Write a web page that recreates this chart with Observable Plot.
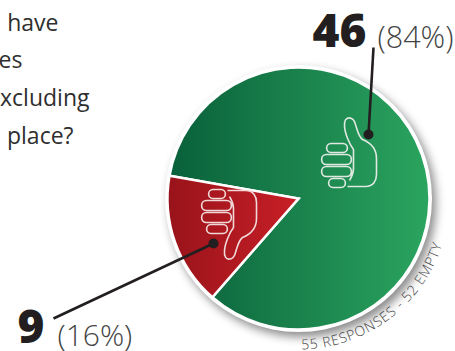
<!DOCTYPE html>
<html>
<head>
<meta charset="utf-8">
<style>
  html, body { margin: 0; padding: 0; background: #fff; }
  svg { display: block; }
</style>
<script src="https://cdn.jsdelivr.net/npm/d3@7"></script>
<script src="https://cdn.jsdelivr.net/npm/@observablehq/plot@0.6"></script>
</head>
<body>
<script>
// Survey answers, one slice per answer
const answers = ["Yes", "No"];
const counts = [46, 9];
const emptyAnswers = 52;
const questionLines = ["have", "es", "xcluding", "place?"];

const total = d3.sum(counts);
const percents = counts.map(c => Math.round(c / total * 100));
const note = `${total} RESPONSES - ${emptyAnswers} EMPTY`;

// Layout
const W = 455, H = 351;
const center = {x: 298, y: 198};
const radius = 131;
const font = "'Open Sans', sans-serif";

// Slices come straight from the counts
const toRad = Math.PI / 180;
const slices = d3.pie().sort(null).startAngle(280 * toRad).endAngle(640 * toRad)(counts);

const wedge = s => ({
  draw(ctx) {
    d3.arc().innerRadius(0).outerRadius(radius).context(ctx)(s);
  }
});

// Thumb icon as outline, drawn around its middle; f = -1 turns it upside down
const stadium = (ctx, x0, x1, y0, y1, f) => {
  const r = (y1 - y0) / 2;
  ctx.moveTo(x0 + r, f * y0);
  ctx.lineTo(x1 - r, f * y0);
  ctx.bezierCurveTo(x1 + r * 0.3, f * y0, x1 + r * 0.3, f * y1, x1 - r, f * y1);
  ctx.lineTo(x0 + r, f * y1);
  ctx.bezierCurveTo(x0 - r * 0.3, f * y1, x0 - r * 0.3, f * y0, x0 + r, f * y0);
  ctx.closePath();
};
const thumb = f => ({
  draw(ctx) {
    stadium(ctx, -22, -1, -9, 0, f);
    stadium(ctx, -27, 3, 2, 12, f);
    stadium(ctx, -27, 3, 14, 24, f);
    stadium(ctx, -20, -3, 26, 35, f);
    ctx.moveTo(-1, f * 34);
    ctx.lineTo(17, f * 34);
    ctx.bezierCurveTo(25, f * 34, 28, f * 28, 28, f * 22);
    ctx.lineTo(28, f * 6);
    ctx.bezierCurveTo(28, f * -3, 24, f * -9, 14, f * -13);
    ctx.bezierCurveTo(10, f * -16, 9, f * -22, 7, f * -28);
    ctx.bezierCurveTo(5, f * -37, -5, f * -37, -4, f * -27);
    ctx.bezierCurveTo(-4, f * -20, 1, f * -8, 5, f * -3);
    ctx.lineTo(5, f * 16);
    ctx.bezierCurveTo(5, f * 22, 2, f * 26, 1, f * 28);
  }
});

// The footnote runs along the rim, one glyph at a time
const noteSize = 14;
const measure = document.createElement("canvas").getContext("2d");
measure.font = `300 ${noteSize}px 'Open Sans'`;
const noteR = 151, noteStart = 179 * toRad, noteTrack = 0.8;
let travelled = 0;
const glyphs = Array.from(note, ch => {
  const w = measure.measureText(ch).width + noteTrack;
  const a = noteStart - (travelled + w / 2) / noteR;
  travelled += w;
  return {
    ch,
    x: center.x + noteR * Math.sin(a),
    y: center.y - noteR * Math.cos(a),
    rotate: (a - Math.PI) / toRad
  };
});

const gradient = (id, from, to) => {
  const g = d3.create("svg:linearGradient").attr("id", id);
  g.append("stop").attr("offset", 0).attr("stop-color", from);
  g.append("stop").attr("offset", 1).attr("stop-color", to);
  return g.node();
};

const leaders = [
  {x1: 373, y1: 47, x2: 368, y2: 134},
  {x1: 53, y1: 318, x2: 213, y2: 243}
];
const anchor = [{x: center.x, y: center.y}];

const chart = Plot.plot({
  width: W,
  height: H,
  margin: 0,
  x: {domain: [0, W], range: [0, W], axis: null},
  y: {domain: [0, H], range: [0, H], axis: null},
  style: {background: "#fff", fontFamily: font},
  marks: [
    () => {
      const defs = d3.create("svg:defs");
      defs.append(() => gradient("greenFill", "#09603a", "#2ba55f"));
      defs.append(() => gradient("redFill", "#99131a", "#c81f27"));
      return defs.node();
    },
    // Disc behind the slices: gives the white rim and the soft shadow
    Plot.dot(anchor, {x: "x", y: "y", r: radius + 2.5, fill: "#fff", stroke: "none",
      imageFilter: "drop-shadow(4px 5px 5px rgba(0,0,0,.45))"}),
    Plot.dot(anchor, {x: "x", y: "y", fill: "url(#greenFill)", stroke: "#fff", strokeWidth: 2.5,
      symbol: wedge(slices[0])}),
    Plot.dot(anchor, {x: "x", y: "y", fill: "url(#redFill)", stroke: "#fff", strokeWidth: 2.5,
      symbol: wedge(slices[1])}),
    // Thumbs
    Plot.dot([{x: 348, y: 152}], {x: "x", y: "y", fill: "none", stroke: "#dfe9e2", strokeWidth: 1.6,
      symbol: thumb(1)}),
    Plot.dot([{x: 228, y: 224}], {x: "x", y: "y", fill: "none", stroke: "#f0d8d8", strokeWidth: 1.6,
      symbol: thumb(-1)}),
    // Leader lines
    Plot.link(leaders, {x1: "x1", y1: "y1", x2: "x2", y2: "y2", stroke: "#231f20", strokeWidth: 2.6}),
    Plot.dot(leaders, {x: "x2", y: "y2", r: 5, fill: "#231f20", stroke: "none"}),
    // Counts and shares
    Plot.text([counts[0]], {x: () => 366, y: () => 47, text: d => String(d), textAnchor: "end",
      fontSize: 46, fontWeight: 900, fill: "#231f20", lineAnchor: "bottom", dy: -1}),
    Plot.text([percents[0]], {x: () => 377, y: () => 47, text: d => `(${d}%)`, textAnchor: "start",
      fontSize: 30.5, fontWeight: 300, fill: "#444", lineAnchor: "bottom"}),
    Plot.text([counts[1]], {x: () => 44, y: () => 343, text: d => String(d), textAnchor: "end",
      fontSize: 46, fontWeight: 900, fill: "#231f20", lineAnchor: "bottom", dy: -1}),
    Plot.text([percents[1]], {x: () => 57, y: () => 345, text: d => `(${d}%)`, textAnchor: "start",
      fontSize: 30, fontWeight: 300, fill: "#444", lineAnchor: "bottom"}),
    // Question text
    Plot.text(questionLines, {
      x: (d, i) => [58, 22, 89, 73][i],
      y: (d, i) => 30 + i * 37.7,
      text: d => d, textAnchor: "end", fontSize: 23, fill: "#2f2f2f", lineAnchor: "bottom"
    }),
    // Footnote around the rim
    Plot.text(glyphs, {x: "x", y: "y", rotate: "rotate", text: "ch", fontSize: noteSize,
      fontWeight: 300, fill: "#444", lineAnchor: "bottom", textAnchor: "middle"})
  ]
});
document.body.append(chart);
</script>
</body>
</html>
